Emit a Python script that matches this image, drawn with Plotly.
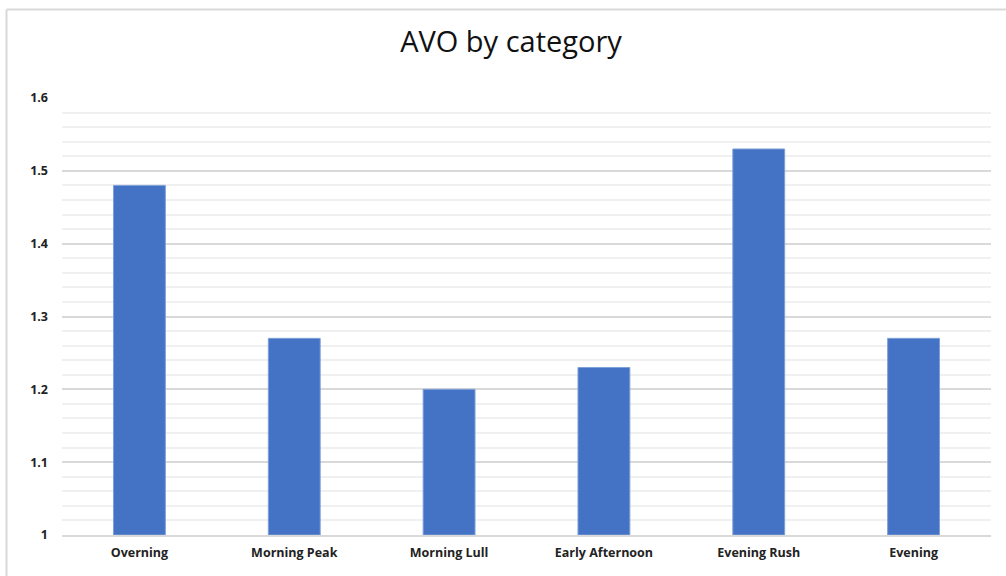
import plotly.graph_objects as go

# Average vehicle occupancy per time-of-day category
categories = ["Overning", "Morning Peak", "Morning Lull", "Early Afternoon", "Evening Rush", "Evening"]
avo_values = [1.48, 1.27, 1.20, 1.23, 1.53, 1.27]
y_ticks = [1.0, 1.1, 1.2, 1.3, 1.4, 1.5, 1.6]
y_tick_labels = ["1", "1.1", "1.2", "1.3", "1.4", "1.5", "1.6"]

W, H = 1006, 576
ML, MR, MT, MB = 62, 15, 98, 41
pw, ph = W - ML - MR, H - MT - MB

fig = go.Figure(
    go.Bar(
        x=categories,
        y=[v - 1.0 for v in avo_values],
        base=1.0,
        width=0.335,
        marker=dict(color="#4472C4", line=dict(color="#7fa0d8", width=1)),
        hoverinfo="x+y",
    )
)

# light outer frame (top and left edges)
fx = (6.5 - ML) / pw
fy = 1 + (MT - 9.5) / ph
fig.add_shape(type="line", xref="paper", yref="paper", x0=fx, x1=fx, y0=-0.2, y1=fy,
              line=dict(color="#d9d9d9", width=2))
fig.add_shape(type="line", xref="paper", yref="paper", x0=fx, x1=1.1, y0=fy, y1=fy,
              line=dict(color="#d9d9d9", width=2))

fig.update_layout(
    width=W,
    height=H,
    margin=dict(l=ML, r=MR, t=MT, b=MB),
    paper_bgcolor="white",
    plot_bgcolor="white",
    showlegend=False,
    bargap=0.665,
    title=dict(
        text="AVO by category",
        x=511 / W,
        xref="container",
        xanchor="center",
        y=1 - 42 / H,
        yanchor="middle",
        font=dict(family="Open Sans", size=29, color="#111111"),
    ),
    font=dict(family="Open Sans", color="#222222"),
)

tick_font = dict(family="Open Sans", size=12.5, color="#222222", weight="bold")

fig.update_xaxes(
    showgrid=False,
    showline=True,
    linecolor="#d9d9d9",
    linewidth=1.5,
    ticks="",
    tickfont=tick_font,
    ticklabelstandoff=5,
)

fig.update_yaxes(
    range=[1.0, 1.6],
    tickvals=y_ticks,
    ticktext=y_tick_labels,
    showgrid=True,
    gridcolor="#d9d9d9",
    gridwidth=1.5,
    zeroline=False,
    showline=False,
    ticks="",
    ticklabelstandoff=13,
    tickfont=tick_font,
    minor=dict(dtick=0.02, tick0=1.0, showgrid=True, gridcolor="#f0f0f0", gridwidth=1.5),
)

fig.write_html("out.html")
